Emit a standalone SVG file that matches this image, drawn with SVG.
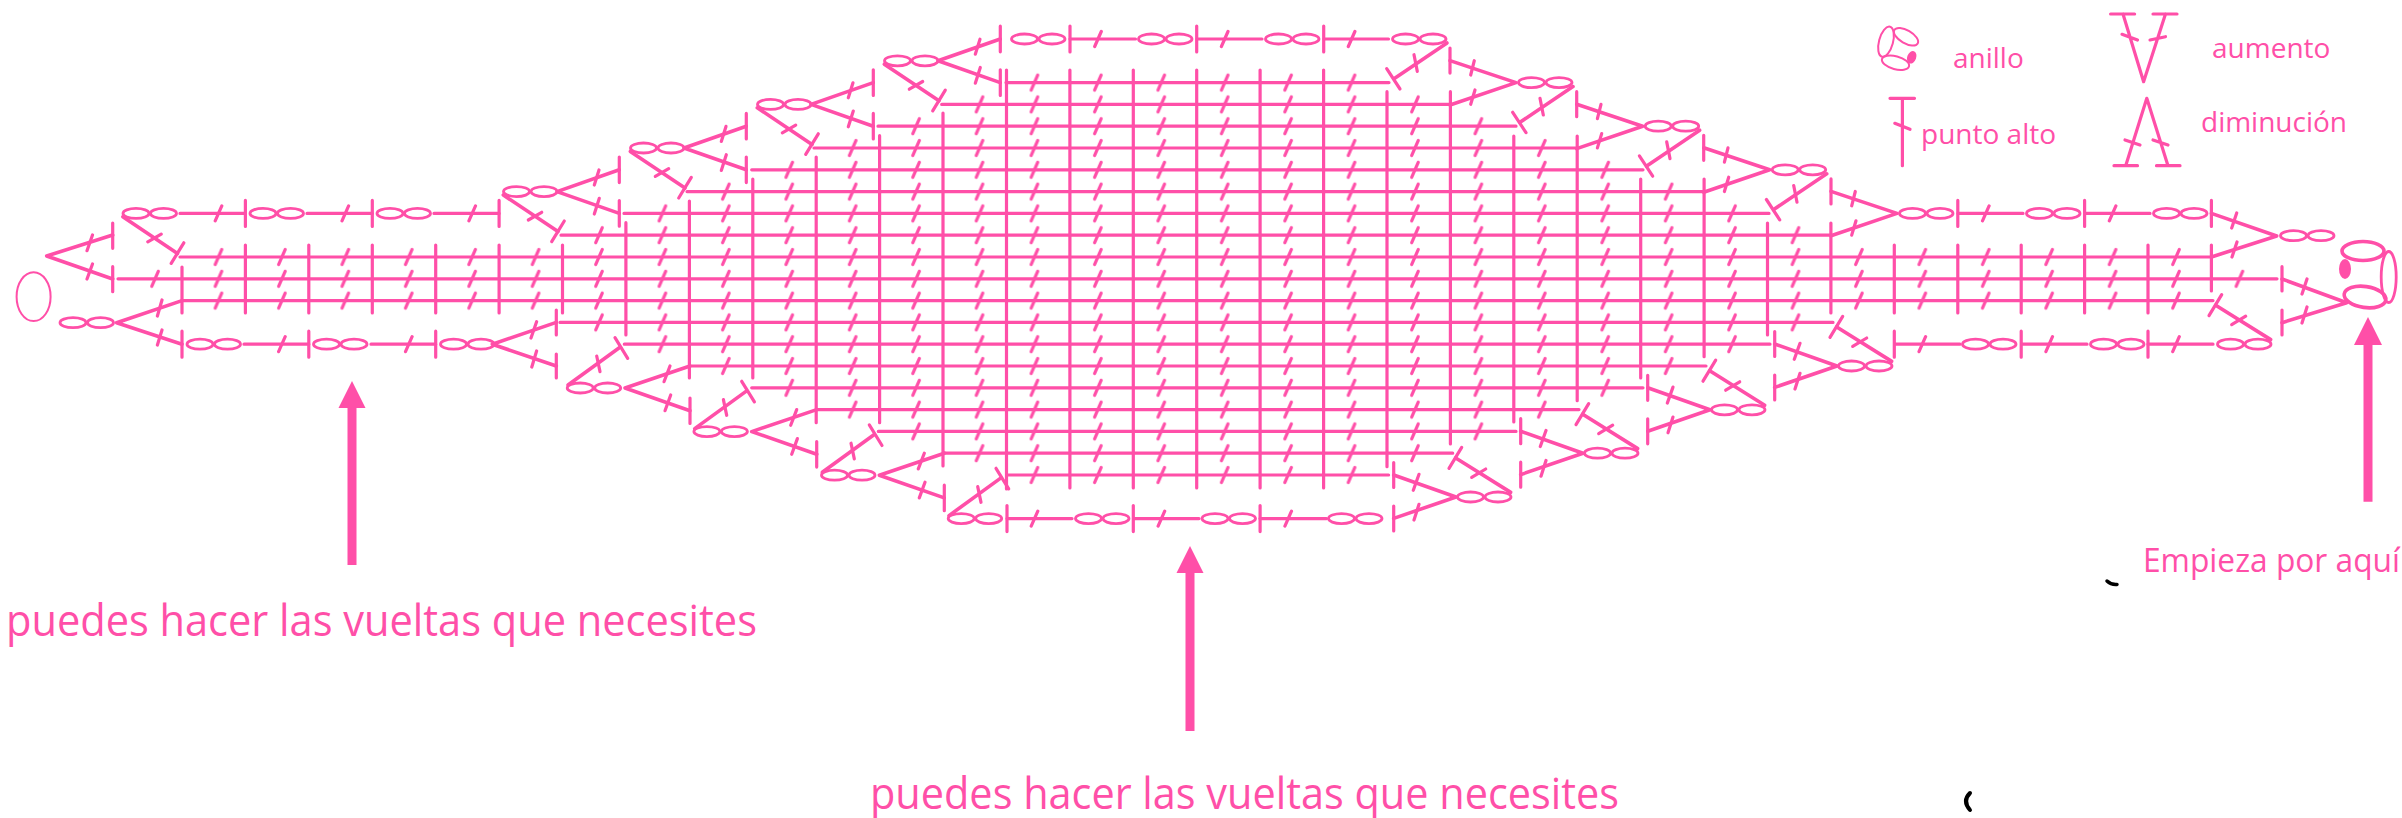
<svg xmlns="http://www.w3.org/2000/svg" xmlns:xlink="http://www.w3.org/1999/xlink" width="2402" height="818" viewBox="0 0 2402 818">
<style>
.l{fill:none;stroke:#ff4fa8;stroke-width:3.2;stroke-linecap:round;stroke-linejoin:round}
.a{fill:none;stroke:#ff4fa8;stroke-width:3.6;stroke-linecap:round;stroke-linejoin:round}
.o{fill:none;stroke:#ff4fa8;stroke-width:2.8}
.r{fill:none;stroke:#ff4fa8;stroke-width:2}
.f{fill:#ff4fa8;stroke:none}
text{fill:#ff4fa8;font-family:"Open Sans","Noto Sans","Liberation Sans",sans-serif}
.big{font-size:44px}
.leg{font-size:28px}
</style>
<defs>
<pattern id="sL" patternUnits="userSpaceOnUse" x="186.79" y="28.1" width="63.42" height="21.8"><path class="l" d="M28.4 18.4L35 3.4"/></pattern>
<pattern id="sR" patternUnits="userSpaceOnUse" x="178.29" y="28.1" width="63.42" height="21.8"><path class="l" d="M28.4 18.4L35 3.4"/></pattern>
<g id="c"><ellipse class="o" cx="13.5" cy="0" rx="13" ry="5"/><ellipse class="o" cx="41" cy="0" rx="13" ry="5"/></g>
<g id="ulD"><use xlink:href="#c"/><path class="a" d="M0.3 3.4L55 40"/><path class="l" d="M61.3 29.4L48.7 50M25.3 28.4L38.7 20.7"/></g>
<g id="ulA"><path class="a" d="M116.3 -21.8L54 0L116.3 21.8"/><path class="l" d="M116.3 -34.6V-9M116.3 9V34.6M96 -21.6L91.3 -6.6M96.3 6.7L91.3 22.4"/></g>
<g id="llD"><use xlink:href="#c"/><path class="a" d="M1.3 -3L53.3 -40.7"/><path class="l" d="M48.3 -50.3L61 -29.7M30 -32L33.3 -16.3"/></g>
<g id="llA"><path class="a" d="M123.3 -22L58.3 0L123.3 22.7"/><path class="l" d="M123.3 10V35.5M103.3 -22L97.3 -6.3M104 7L98.3 22.7"/></g>
<g id="urD"><use xlink:href="#c"/><path class="a" d="M55 4L2 39.7"/><path class="l" d="M-5.3 29.7L8 50M22 15.7L25.3 32.4"/></g>
<g id="urA"><path class="a" d="M-68 -22L-2 0L-68 22.4"/><path class="l" d="M-68 -34.5V-9.5M-43.7 -21.9L-47.3 -7.6M-43 7.4L-47.3 21.7"/></g>
<g id="lrD"><use xlink:href="#c"/><path class="a" d="M53.7 -4.6L-1.3 -39"/><path class="l" d="M4.7 -49.6L-8 -28.6M14.7 -19.6L28.7 -28"/></g>
<g id="lrA"><path class="a" d="M-63.3 -22L-1 0L-63.3 21.4"/><path class="l" d="M-63.3 -34.5V-9.5M-63.3 9V34M-38 -22.7L-43.7 -6.7M-38 7.3L-43 23"/></g>
</defs>
<rect width="2402" height="818" fill="#fff"/>

<g id="grid">
<path class="l" d="M182 267V313M245.4 245V313M308.8 245V313M372.3 245V313M435.7 245V313M499.1 245V313M562.5 245V313M625.9 222.7V335M689.4 201V378M752.8 179V378M816.2 157V422.7M879.6 135.7V422.7M943 113V466M1006.5 70V489M1069.9 70V488M1133.3 70V488M1196.7 70V488M1260.1 70V488M1323.6 70V488M1387 91.7V466.7M1450.4 91.7V444M1513.8 136V422M1577.2 136V400.7M1640.7 179V378M1704.1 179V356.7M1767.5 223V335M1830.9 223V313M1894.3 245V313M1957.8 245V313M2021.2 245V313M2084.6 245V313M2148 245V313M2211.4 245V291"/>
<path class="l" d="M1006 82.6H1389M941.7 104.4H1450M878 126.2H1516M814 148H1577M751.7 169.8H1643M687 191.6H1703M624 213.4H1769M561 235.2H1831M180 257H2211M118 278.8H2277M182 300.6H2213M560 322.4H1833M624.3 344.2H1770M690 366H1706M751.7 387.8H1643M816.7 409.6H1579M878.3 431.4H1516M944 453.2H1452.7M1007 475H1388.6"/>
<path class="l" d="M180 213.4H245.4M307 213.4H372.3M434 213.4H499.1M1958 213.4H2023M2085 213.4H2150M244 344.2H308.8M371 344.2H435.7M1895 344.2H1960M2022 344.2H2087M2148 344.2H2213M1070 39H1135.5M1197 39H1262M1324 39H1388.5M1007 518.6H1072M1133.6 518.6H1199M1260 518.6H1326.5"/>
<path fill="url(#sL)" d="M1007 93.5H947.83V115.3H884.41V137.1H820.99V158.9H757.57V180.7H694.15V202.5H630.73V224.3H567.31V246.1H186.79V267.9H123.37V289.7H186.79V311.5H567.31V333.3H630.73V355.1H694.15V376.9H757.57V398.7H820.99V420.5H884.41V442.3H947.83V464.1H1007Z"/>
<path fill="url(#sR)" d="M1007 71.7H1383.27V93.5H1446.69V115.3H1510.11V137.1H1573.53V158.9H1636.95V180.7H1700.37V202.5H1763.79V224.3H1827.21V246.1H2207.73V267.9H2271.15V289.7H2207.73V311.5H1827.21V333.3H1763.79V355.1H1700.37V376.9H1636.95V398.7H1573.53V420.5H1510.11V442.3H1446.69V464.1H1383.27V485.9H1007Z"/>
<path class="l" d="M215.2 220.9l6.6-15M342 220.9l6.6-15M468.9 220.9l6.6-15M1982.5 220.9l6.6-15M2109.3 220.9l6.6-15M278.6 351.7l6.6-15M405.5 351.7l6.6-15M1919 351.7l6.6-15M2045.9 351.7l6.6-15M2172.7 351.7l6.6-15M1094.7 46.5l6.6-15M1221.4 46.5l6.6-15M1348.3 46.5l6.6-15M1031.2 526.1l6.6-15M1158.1 526.1l6.6-15M1284.9 526.1l6.6-15"/>
<path class="l" d="M1070 26V52M1196.7 26V52M1323.7 26V52M1007 505.6V531.6M1133.3 505.6V531.6M1260.1 505.6V531.6M245.4 200.4V226.4M372.3 200.4V226.4M499.1 200.4V226.4M1957.8 200.4V226.4M2084.6 200.4V226.4M2211.4 200.4V226.4M182 331.2V357.2M308.8 331.2V357.2M435.7 331.2V357.2M1894.3 331.2V357.2M2021.2 331.2V357.2M2148 331.2V357.2"/>
</g>

<g id="connectors">
<use xlink:href="#ulA" x="503" y="191.6"/><use xlink:href="#ulA" x="630" y="148"/><use xlink:href="#ulA" x="757" y="104.4"/><use xlink:href="#ulA" x="884" y="60.8"/>
<use xlink:href="#llA" x="566.7" y="388"/><use xlink:href="#llA" x="693.4" y="431.6"/><use xlink:href="#llA" x="821" y="475.2"/>
<use xlink:href="#urA" x="1518" y="82.6"/><use xlink:href="#urA" x="1644.7" y="126.2"/><use xlink:href="#urA" x="1771.7" y="169.8"/><use xlink:href="#urA" x="1899" y="213.4"/>
<use xlink:href="#lrA" x="1457" y="497"/><use xlink:href="#lrA" x="1584" y="453.2"/><use xlink:href="#lrA" x="1711" y="409.8"/><use xlink:href="#lrA" x="1838" y="366"/>
<path class="a" d="M112.7 235L46.7 256L112.7 279M182 300.6L116.6 322.7L182 344.2M556.3 322.4L492.3 344.2L556.3 366M2211.4 213.4L2276.7 236L2211.4 257M2282 279L2346.7 302.7L2282 322.7"/>
<path class="l" d="M112.7 223V248.3M112.7 266.7V291.7M92.5 235L87 250.7M92.5 264L87 279M162 300L157.4 316M162 330L157.4 345M556.3 310V335M556.3 354V378M536.6 321.7L531 338M536.6 351L531.8 367M2236.7 213L2231.7 228M2237 242L2232 257M2282 266.7V291M2282 310V335M2307 279L2302 294M2307 307L2302 323"/>
</g>

<g id="chains">
<use xlink:href="#ulD" x="122.5" y="213.4"/><use xlink:href="#ulD" x="503" y="191.6"/><use xlink:href="#ulD" x="630" y="148"/><use xlink:href="#ulD" x="757" y="104.4"/><use xlink:href="#ulD" x="884" y="60.8"/>
<use xlink:href="#llD" x="566.7" y="388"/><use xlink:href="#llD" x="693.4" y="431.6"/><use xlink:href="#llD" x="821" y="475.2"/><use xlink:href="#llD" x="947.7" y="518.6"/>
<use xlink:href="#urD" x="1392" y="39"/><use xlink:href="#urD" x="1518" y="82.6"/><use xlink:href="#urD" x="1644.7" y="126.2"/><use xlink:href="#urD" x="1771.7" y="169.8"/>
<use xlink:href="#lrD" x="1457" y="497"/><use xlink:href="#lrD" x="1584" y="453.2"/><use xlink:href="#lrD" x="1711" y="409.8"/><use xlink:href="#lrD" x="1838" y="366"/><use xlink:href="#lrD" x="2217" y="344.2"/>
<use xlink:href="#c" x="249.5" y="213.4"/><use xlink:href="#c" x="376.5" y="213.4"/><use xlink:href="#c" x="59.5" y="322.7"/><use xlink:href="#c" x="186.5" y="344.2"/><use xlink:href="#c" x="313" y="344.2"/><use xlink:href="#c" x="440" y="344.2"/>
<use xlink:href="#c" x="1011" y="39"/><use xlink:href="#c" x="1138" y="39"/><use xlink:href="#c" x="1265" y="39"/><use xlink:href="#c" x="1075" y="518.6"/><use xlink:href="#c" x="1201.5" y="518.6"/><use xlink:href="#c" x="1328" y="518.6"/>
<use xlink:href="#c" x="1899" y="213.4"/><use xlink:href="#c" x="2026" y="213.4"/><use xlink:href="#c" x="2153" y="213.4"/><use xlink:href="#c" x="2280" y="235.7"/><use xlink:href="#c" x="1962" y="344.2"/><use xlink:href="#c" x="2090" y="344.2"/>
</g>

<g id="ring-left"><ellipse class="r" cx="33.6" cy="296.7" rx="17" ry="24.4"/></g>
<g id="ring-start">
<ellipse class="a" cx="2363" cy="251" rx="21" ry="9.5"/>
<ellipse class="a" cx="2365" cy="297" rx="21" ry="10.5" transform="rotate(8 2365 297)"/>
<ellipse class="o" cx="2388.7" cy="277" rx="7.5" ry="25.5"/>
<ellipse class="f" cx="2345" cy="269" rx="6" ry="10"/>
</g>

<g id="arrows">
<polygon class="f" points="352,381 365.5,408 356.5,408 356.5,565 347.5,565 347.5,408 338.5,408"/>
<polygon class="f" points="1190,546 1203.5,573 1194.5,573 1194.5,731 1185.5,731 1185.5,573 1176.5,573"/>
<polygon class="f" points="2368,317 2382,345 2372.5,345 2372.5,501.7 2363.5,501.7 2363.5,345 2354,345"/>
</g>

<g id="legend-anillo">
<ellipse class="r" cx="1886" cy="41.7" rx="7" ry="15.5" transform="rotate(15 1886 41.7)"/>
<ellipse class="r" cx="1906" cy="36.7" rx="13.5" ry="6.5" transform="rotate(30 1906 36.7)"/>
<ellipse class="r" cx="1895.5" cy="62.7" rx="14" ry="6.5" transform="rotate(15 1895.5 62.7)"/>
<ellipse class="f" cx="1911.7" cy="57.3" rx="4.5" ry="6.5" transform="rotate(20 1911.7 57.3)"/>
<text class="leg" x="1953" y="67.7">anillo</text>
</g>
<g id="legend-punto-alto">
<path class="l" d="M1890 98.3H1914.5M1902.4 98.3V165.7M1894.8 123.3L1910 129.3"/>
<text class="leg" x="1921" y="144">punto alto</text>
</g>
<g id="legend-aumento">
<path class="l" d="M2110.6 14H2134.6M2153 14H2177M2123 14L2143.6 81.7L2165.5 14M2122 34.3L2137.5 40M2150 40L2165.5 36.7"/>
<text class="leg" x="2212" y="58.3">aumento</text>
</g>
<g id="legend-diminucion">
<path class="l" d="M2114 165.7H2137.5M2156.5 165.7H2180M2125.7 165.7L2146.8 98.3L2168 165.7M2125 140L2140 145M2153 140L2168 145"/>
<text class="leg" x="2201" y="131.7">diminución</text>
</g>

<text class="big" x="6" y="636" textLength="751" lengthAdjust="spacingAndGlyphs">puedes hacer las vueltas que necesites</text>
<text class="big" x="870" y="808.7" textLength="749" lengthAdjust="spacingAndGlyphs">puedes hacer las vueltas que necesites</text>
<text x="2143" y="571.7" font-size="33" textLength="257" lengthAdjust="spacingAndGlyphs">Empieza por aquí</text>

<g id="marks">
<path d="M2107 581Q2111 585 2117 584.5" fill="none" stroke="#000" stroke-width="3.5" stroke-linecap="round"/>
<path d="M1970 793Q1962 801 1970 810" fill="none" stroke="#000" stroke-width="4" stroke-linecap="round"/>
</g>
</svg>
